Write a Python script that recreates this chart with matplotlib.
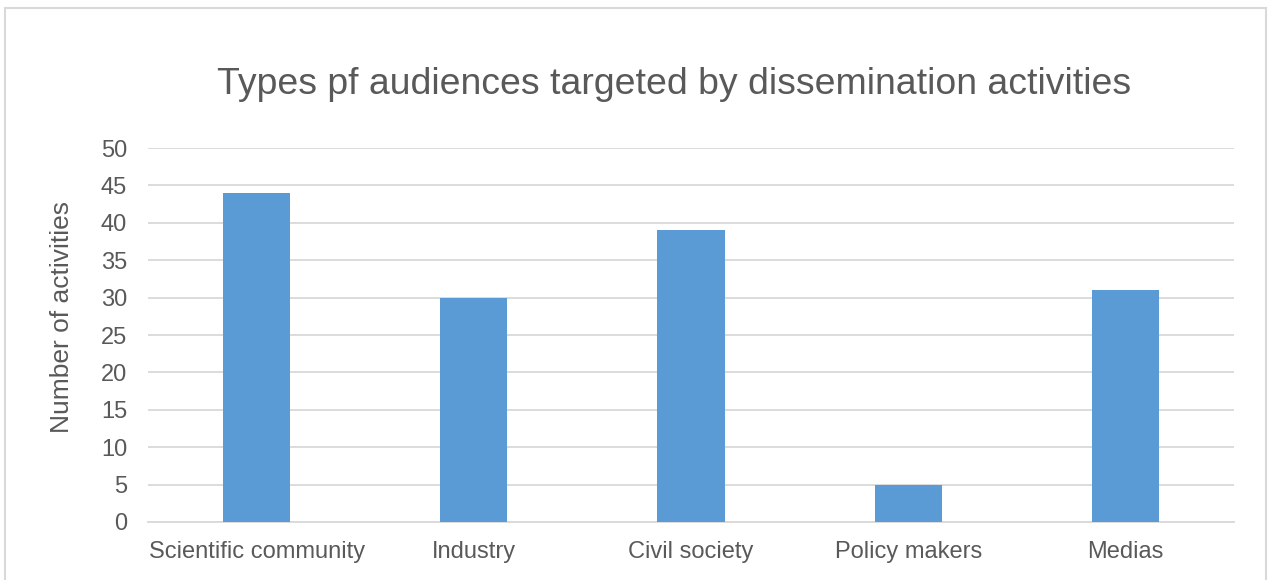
import matplotlib.pyplot as plt
from matplotlib.patches import Rectangle
import numpy as np

plt.rcParams['font.family'] = ['Liberation Sans', 'DejaVu Sans']

categories = ['Scientific community', 'Industry', 'Civil society', 'Policy makers', 'Medias']
values = [44, 30, 39, 5, 31]
yticks = [0, 5, 10, 15, 20, 25, 30, 35, 40, 45, 50]

txt = '#595959'
fig = plt.figure(figsize=(12.68, 5.8), dpi=100)
ax = fig.add_axes([148/1268, 1-522/580, (1234-148)/1268, (522-148)/580])

x = np.arange(len(categories))
ax.bar(x, values, width=0.31, color='#5B9BD5', zorder=3)

ax.set_xlim(-0.5, len(categories)-0.5)
ax.set_ylim(0, 50)
ax.set_yticks(yticks)
ax.set_xticks(x)
ax.set_xticklabels(categories)
ax.tick_params(axis='both', length=0, labelsize=17, colors=txt)
ax.tick_params(axis='y', pad=15)
ax.tick_params(axis='x', pad=14)
ax.grid(axis='y', color='#d9d9d9', linewidth=1.3, zorder=0)
for s in ['top', 'right', 'left']:
    ax.spines[s].set_visible(False)
ax.spines['bottom'].set_color('#d9d9d9')
ax.spines['bottom'].set_linewidth(1.3)

ax.set_ylabel('Number of activities', fontsize=19, color=txt)
ax.yaxis.set_label_coords(-0.068, 0.547)
fig.text(0.5315, 1-84/580, 'Types pf audiences targeted by dissemination activities',
         ha='center', va='center', fontsize=26.9, color=txt)

fig.patches.append(Rectangle((5/1268, -0.05), (1266-5)/1268, 1.05-8/580,
                             transform=fig.transFigure, fill=False,
                             edgecolor='#d9d9d9', linewidth=1.5))

fig.savefig('out.png', dpi=100)
